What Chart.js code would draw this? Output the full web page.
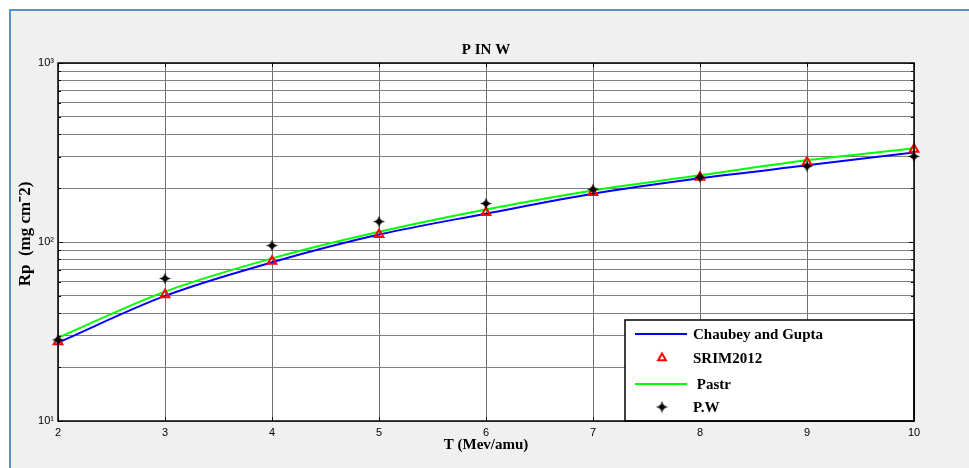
<!DOCTYPE html>
<html>
<head>
<meta charset="utf-8">
<script src="https://cdn.jsdelivr.net/npm/chart.js@4.4.1/dist/chart.umd.min.js"></script>
<style>
  html, body { margin: 0; padding: 0; background: #ffffff; overflow: hidden; }
  #frame { position: absolute; left: 9px; top: 9px; width: 1000px; height: 500px;
           background: #f0f0f0; border-left: 2px solid #5b8fd0; border-top: 2px solid #5b8fd0; }
  #wrap { position: absolute; left: 0; top: 0; width: 969px; height: 468px; }
</style>
</head>
<body>
<div id="frame"></div>
<div id="wrap"><canvas id="c" width="969" height="468"></canvas></div>
<script>
// ---- data ----
const energies = [2, 3, 4, 5, 6, 7, 8, 9, 10];
const chaubeyGupta = [27.4, 50, 77, 110, 144, 186, 227, 268, 316];
const srim2012 = [27.7, 50.8, 78, 110, 146, 189, 230, 279, 330];
const pastr = [29.2, 52.8, 81, 114, 152, 194, 236, 286, 334];
const pw = [28.4, 62.5, 95.5, 130, 164, 197, 230, 265, 301];

const xTicks = [2, 3, 4, 5, 6, 7, 8, 9, 10];
const yTicks = [10, 20, 30, 40, 50, 60, 70, 80, 90,
                100, 200, 300, 400, 500, 600, 700, 800, 900, 1000];
const yTickLabels = { 10: '10\u00B9', 100: '10\u00B2', 1000: '10\u00B3' };

const titleText = 'P IN W';
const xTitle = 'T (Mev/amu)';
const yTitle = 'Rp  (mg cm\u207B2)';
const seriesNames = ['Chaubey and Gupta', 'SRIM2012', ' Pastr', 'P.W'];

const pts = arr => energies.map((e, i) => ({ x: e, y: arr[i] }));

const serif = '"Liberation Serif", "Times New Roman", serif';
const sans = '"Liberation Sans", Arial, sans-serif';

// four-pointed star marker image (marker style only)
const starImg = (() => {
  const c = document.createElement('canvas');
  c.width = 13; c.height = 13;
  const g = c.getContext('2d');
  g.translate(6.5, 6.5);
  g.fillStyle = '#000';
  g.beginPath();
  const outer = 6, inner = 2.2;
  for (let k = 0; k < 8; k++) {
    const ang = k * Math.PI / 4;
    const r = (k % 2 === 0) ? outer : inner;
    const px = r * Math.cos(ang), py = r * Math.sin(ang);
    if (k === 0) g.moveTo(px, py); else g.lineTo(px, py);
  }
  g.closePath();
  g.fill();
  g.beginPath(); g.arc(0, 0, 2.8, 0, Math.PI * 2); g.fill();
  return c;
})();

const decor = {
  id: 'decor',
  beforeDraw(chart) {
    const { ctx, chartArea: a } = chart;
    ctx.save();
    ctx.fillStyle = '#ffffff';
    ctx.fillRect(a.left, a.top, a.right - a.left, a.bottom - a.top);
    ctx.restore();
  },
  afterDraw(chart) {
    const { ctx, chartArea: a, scales } = chart;
    const xs = scales.x, ys = scales.y;
    ctx.save();
    // inward tick marks
    ctx.strokeStyle = '#000';
    ctx.lineWidth = 1;
    ctx.beginPath();
    xTicks.forEach(v => {
      const px = Math.round(xs.getPixelForValue(v)) + 0.5;
      ctx.moveTo(px, a.bottom); ctx.lineTo(px, a.bottom - 4);
      ctx.moveTo(px, a.top); ctx.lineTo(px, a.top + 4);
    });
    yTicks.forEach(v => {
      const py = Math.round(ys.getPixelForValue(v)) + 0.5;
      const len = yTickLabels[v] ? 5 : 3;
      ctx.moveTo(a.left, py); ctx.lineTo(a.left + len, py);
      ctx.moveTo(a.right, py); ctx.lineTo(a.right - len, py);
    });
    ctx.stroke();

    // legend box
    const lx = 625, ly = 320, lw = a.right - lx, lh = a.bottom - ly;
    ctx.fillStyle = '#ffffff';
    ctx.fillRect(lx, ly, lw, lh);
    ctx.strokeStyle = '#000';
    ctx.lineWidth = 1.5;
    ctx.strokeRect(lx, ly, lw, lh);
    const rowsY = [334, 358, 384, 407];
    ctx.textBaseline = 'middle';
    ctx.textAlign = 'left';
    chart.data.datasets.forEach((ds, i) => {
      const y = rowsY[i];
      if (ds.showLine) {
        ctx.strokeStyle = ds.borderColor;
        ctx.lineWidth = 2;
        ctx.beginPath(); ctx.moveTo(635, y); ctx.lineTo(687, y); ctx.stroke();
      } else {
        ctx.strokeStyle = ds.pointBorderColor;
        ctx.fillStyle = ds.pointBackgroundColor;
        ctx.lineWidth = ds.pointBorderWidth;
        Chart.helpers.drawPoint(ctx, {
          pointStyle: ds.pointStyle, radius: ds.legendRadius, rotation: 0,
          borderWidth: ds.pointBorderWidth
        }, 662, y);
      }
      ctx.fillStyle = '#000';
      ctx.font = 'bold 15px ' + serif;
      ctx.fillText(ds.label, 693, y + 1);
    });

    // axes box
    ctx.strokeStyle = '#000';
    ctx.lineWidth = 1.5;
    ctx.strokeRect(a.left, a.top, a.right - a.left, a.bottom - a.top);

    // titles
    ctx.fillStyle = '#000';
    ctx.textAlign = 'center';
    ctx.textBaseline = 'middle';
    const cx = (a.left + a.right) / 2;
    ctx.font = 'bold 15px ' + serif;
    ctx.fillText(titleText, cx, 50);
    ctx.font = 'bold 15px ' + serif;
    ctx.fillText(xTitle, cx, 445);
    ctx.translate(26, 234);
    ctx.rotate(-Math.PI / 2);
    ctx.font = 'bold 17px ' + serif;
    ctx.fillText(yTitle, 0, 0);
    ctx.restore();
  }
};

new Chart(document.getElementById('c'), {
  type: 'line',
  data: {
    datasets: [
      { label: seriesNames[0], data: pts(chaubeyGupta), borderColor: '#0000ff', borderWidth: 2,
        pointRadius: 0, showLine: true, cubicInterpolationMode: 'monotone', order: 3 },
      { label: seriesNames[1], data: pts(srim2012), showLine: false, pointStyle: 'triangle',
        pointRadius: 5, legendRadius: 4.5, pointBorderWidth: 2, pointBorderColor: '#ff0000',
        pointBackgroundColor: 'rgba(0,0,0,0)', borderColor: '#ff0000', order: 1, clip: false },
      { label: seriesNames[2], data: pts(pastr), borderColor: '#00ff00', borderWidth: 2,
        pointRadius: 0, showLine: true, cubicInterpolationMode: 'monotone', order: 2 },
      { label: seriesNames[3], data: pts(pw), showLine: false, pointStyle: starImg,
        pointRadius: 5, legendRadius: 5, pointBorderWidth: 1, pointBorderColor: '#000000',
        pointBackgroundColor: '#000000', borderColor: '#000000', order: 0, clip: false }
    ]
  },
  options: {
    responsive: false,
    animation: false,
    events: [],
    layout: { padding: { top: 63, left: 0, right: 55, bottom: 0 } },
    plugins: { legend: { display: false }, title: { display: false }, tooltip: { enabled: false } },
    scales: {
      x: {
        type: 'linear', min: 2, max: 10,
        afterFit: s => { s.height = 47; },
        afterBuildTicks: s => { s.ticks = xTicks.map(v => ({ value: v })); },
        grid: { color: '#707070', lineWidth: 1, drawTicks: false },
        border: { display: false },
        ticks: { color: '#000', font: { family: sans, size: 11 }, padding: 5, maxRotation: 0,
                 callback: v => String(v) }
      },
      y: {
        type: 'logarithmic', min: 10, max: 1000,
        afterFit: s => { s.width = 58; },
        afterBuildTicks: s => { s.ticks = yTicks.map(v => ({ value: v })); },
        grid: { color: '#808080', lineWidth: 1, drawTicks: false },
        border: { display: false },
        ticks: { color: '#000', font: { family: sans, size: 11 }, padding: 4, autoSkip: false,
                 callback: v => yTickLabels[v] || '' }
      }
    }
  },
  plugins: [decor]
});
</script>
</body>
</html>
